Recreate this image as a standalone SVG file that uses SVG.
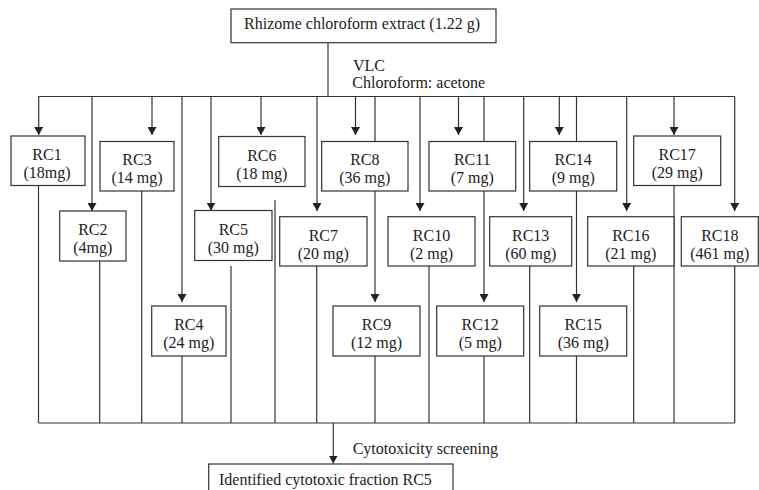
<svg xmlns="http://www.w3.org/2000/svg" width="759" height="490" viewBox="0 0 759 490" font-family="'Liberation Serif', 'Times New Roman', serif">
<defs>
<style>
.bx{fill:#fff;stroke:#333;stroke-width:1.2}
.ln{fill:none;stroke:#333;stroke-width:1.2}
text{font-family:'Liberation Serif','Times New Roman',serif;font-size:16px;fill:#222}
.c{text-anchor:middle}
</style>
<marker id="ah" markerUnits="userSpaceOnUse" markerWidth="8" markerHeight="9" refX="8" refY="4.5" orient="auto" viewBox="0 0 8 9">
<path d="M0,0 L8,4.5 L0,9 z" fill="#222"/>
</marker>
</defs>
<rect width="759" height="490" fill="#fff"/>
<g id="connectors">
<line class="ln" x1="328" y1="42.7" x2="328" y2="96.5"/>
<line class="ln" x1="38.5" y1="96.5" x2="734.7" y2="96.5"/>
<line class="ln" x1="38.7" y1="96.5" x2="38.7" y2="135" marker-end="url(#ah)"/>
<line class="ln" x1="92" y1="96.5" x2="92" y2="211" marker-end="url(#ah)"/>
<line class="ln" x1="152" y1="96.5" x2="152" y2="135" marker-end="url(#ah)"/>
<line class="ln" x1="182" y1="96.5" x2="182" y2="302" marker-end="url(#ah)"/>
<line class="ln" x1="211" y1="96.5" x2="211" y2="210.5" marker-end="url(#ah)"/>
<line class="ln" x1="261" y1="96.5" x2="261" y2="135" marker-end="url(#ah)"/>
<line class="ln" x1="317" y1="96.5" x2="317" y2="211" marker-end="url(#ah)"/>
<line class="ln" x1="355.5" y1="96.5" x2="355.5" y2="135" marker-end="url(#ah)"/>
<line class="ln" x1="375" y1="96.5" x2="375" y2="302" marker-end="url(#ah)"/>
<line class="ln" x1="420" y1="96.5" x2="420" y2="211" marker-end="url(#ah)"/>
<line class="ln" x1="458.5" y1="96.5" x2="458.5" y2="135" marker-end="url(#ah)"/>
<line class="ln" x1="484" y1="96.5" x2="484" y2="302" marker-end="url(#ah)"/>
<line class="ln" x1="523.7" y1="96.5" x2="523.7" y2="211" marker-end="url(#ah)"/>
<line class="ln" x1="559.3" y1="96.5" x2="559.3" y2="135" marker-end="url(#ah)"/>
<line class="ln" x1="576.5" y1="96.5" x2="576.5" y2="302" marker-end="url(#ah)"/>
<line class="ln" x1="626.7" y1="96.5" x2="626.7" y2="211" marker-end="url(#ah)"/>
<line class="ln" x1="674" y1="96.5" x2="674" y2="135" marker-end="url(#ah)"/>
<line class="ln" x1="734.7" y1="96.5" x2="734.7" y2="211" marker-end="url(#ah)"/>
<line class="ln" x1="38.5" y1="185.5" x2="38.5" y2="423"/>
<line class="ln" x1="99.7" y1="261" x2="99.7" y2="423"/>
<line class="ln" x1="141.7" y1="191" x2="141.7" y2="423"/>
<line class="ln" x1="182" y1="356" x2="182" y2="423"/>
<line class="ln" x1="231" y1="266" x2="231" y2="423"/>
<line class="ln" x1="275" y1="200" x2="275" y2="423"/>
<line class="ln" x1="316.7" y1="266" x2="316.7" y2="423"/>
<line class="ln" x1="375" y1="356" x2="375" y2="423"/>
<line class="ln" x1="429" y1="266" x2="429" y2="423"/>
<line class="ln" x1="484" y1="356" x2="484" y2="423"/>
<line class="ln" x1="529.7" y1="266" x2="529.7" y2="423"/>
<line class="ln" x1="576.5" y1="356" x2="576.5" y2="423"/>
<line class="ln" x1="633.7" y1="266" x2="633.7" y2="423"/>
<line class="ln" x1="674" y1="185.5" x2="674" y2="423"/>
<line class="ln" x1="734.7" y1="266" x2="734.7" y2="423"/>
<line class="ln" x1="38.5" y1="423" x2="734.7" y2="423"/>
<line class="ln" x1="333.3" y1="423" x2="333.3" y2="463.5" marker-end="url(#ah)"/>
</g>
<g id="top">
<rect class="bx" x="231" y="9" width="265" height="33.7"/>
<text class="c" x="362" y="29">Rhizome chloroform extract (1.22 g)</text>
</g>
<g id="vlc-label">
<text x="353" y="71">VLC</text>
<text x="352.3" y="88">Chloroform: acetone</text>
</g>
<g id="RC1"><rect class="bx" x="11" y="136" width="74" height="49.5"/><text class="c" x="47" y="160">RC1</text><text class="c" x="47" y="178">(18mg)</text></g>
<g id="RC2"><rect class="bx" x="59.7" y="211" width="66.3" height="50"/><text class="c" x="92.8" y="235">RC2</text><text class="c" x="92.8" y="253">(4mg)</text></g>
<g id="RC3"><rect class="bx" x="100" y="141.5" width="74" height="49.5"/><text class="c" x="137" y="165">RC3</text><text class="c" x="137" y="183">(14 mg)</text></g>
<g id="RC4"><rect class="bx" x="151.7" y="306" width="74.3" height="50"/><text class="c" x="188.8" y="330">RC4</text><text class="c" x="188.8" y="348">(24 mg)</text></g>
<g id="RC5"><rect class="bx" x="194.7" y="210.5" width="77.3" height="50"/><text class="c" x="233.3" y="234.5">RC5</text><text class="c" x="233.3" y="252.5">(30 mg)</text></g>
<g id="RC6"><rect class="bx" x="218.7" y="136.5" width="86.3" height="50"/><text class="c" x="261.8" y="160.5">RC6</text><text class="c" x="261.8" y="178.5">(18 mg)</text></g>
<g id="RC7"><rect class="bx" x="279.7" y="216.7" width="87.3" height="49.3"/><text class="c" x="323.3" y="240.5">RC7</text><text class="c" x="323.3" y="258.5">(20 mg)</text></g>
<g id="RC8"><rect class="bx" x="321.7" y="141.5" width="86.3" height="49.5"/><text class="c" x="364.8" y="165">RC8</text><text class="c" x="364.8" y="183">(36 mg)</text></g>
<g id="RC9"><rect class="bx" x="333" y="306" width="87" height="50"/><text class="c" x="376.5" y="330">RC9</text><text class="c" x="376.5" y="348">(12 mg)</text></g>
<g id="RC10"><rect class="bx" x="388" y="216.7" width="87" height="49.3"/><text class="c" x="431.5" y="240.5">RC10</text><text class="c" x="431.5" y="258.5">(2 mg)</text></g>
<g id="RC11"><rect class="bx" x="429" y="141.5" width="86.7" height="49.5"/><text class="c" x="472.3" y="165">RC11</text><text class="c" x="472.3" y="183">(7 mg)</text></g>
<g id="RC12"><rect class="bx" x="436.7" y="306" width="87" height="50"/><text class="c" x="480.2" y="330">RC12</text><text class="c" x="480.2" y="348">(5 mg)</text></g>
<g id="RC13"><rect class="bx" x="489.7" y="216.7" width="82" height="49.3"/><text class="c" x="530.7" y="240.5">RC13</text><text class="c" x="530.7" y="258.5">(60 mg)</text></g>
<g id="RC14"><rect class="bx" x="529.7" y="141.5" width="87" height="49.5"/><text class="c" x="573.2" y="165">RC14</text><text class="c" x="573.2" y="183">(9 mg)</text></g>
<g id="RC15"><rect class="bx" x="539.7" y="306" width="87" height="50"/><text class="c" x="583.2" y="330">RC15</text><text class="c" x="583.2" y="348">(36 mg)</text></g>
<g id="RC16"><rect class="bx" x="587.7" y="216.7" width="86.3" height="49.3"/><text class="c" x="630.8" y="240.5">RC16</text><text class="c" x="630.8" y="258.5">(21 mg)</text></g>
<g id="RC17"><rect class="bx" x="633.7" y="136" width="87" height="49.5"/><text class="c" x="677.2" y="160">RC17</text><text class="c" x="677.2" y="178">(29 mg)</text></g>
<g id="RC18"><rect class="bx" x="681.3" y="216.7" width="77" height="49.3"/><text class="c" x="719.8" y="240.5">RC18</text><text class="c" x="719.8" y="258.5">(461 mg)</text></g>
<g id="screen-label"><text x="352.7" y="454">Cytotoxicity screening</text></g>
<g id="result">
<rect class="bx" x="208.7" y="464" width="244.3" height="40"/>
<text x="219" y="485">Identified cytotoxic fraction RC5</text>
</g>
</svg>
